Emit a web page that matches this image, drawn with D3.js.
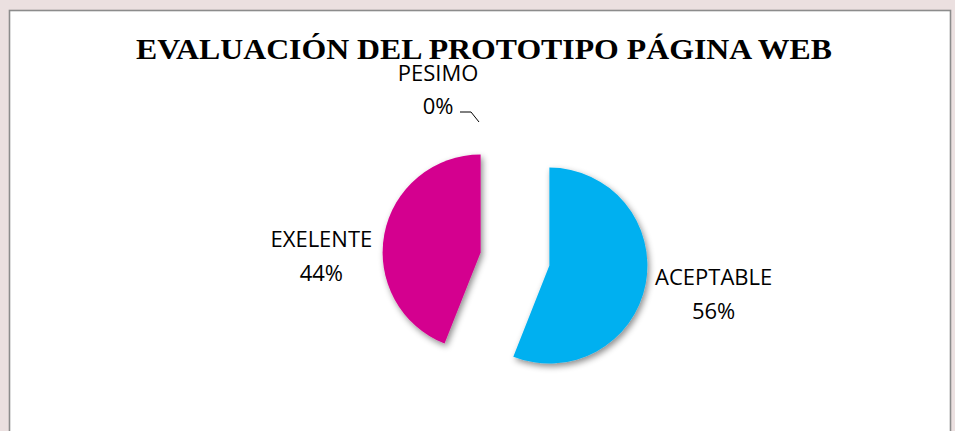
<!DOCTYPE html>
<html>
<head>
<meta charset="utf-8">
<script src="https://cdn.jsdelivr.net/npm/d3@7"></script>
<style>
  html, body { margin: 0; padding: 0; background: #ebe0e0; }
  svg { display: block; }
</style>
</head>
<body>
<svg id="chart"></svg>
<script>
// datos del grafico
var categories = ["ACEPTABLE", "EXELENTE", "PESIMO"];
var values = [56, 44, 0];
var colors = ["#00b0f0", "#d4008f", "#7f7f7f"];
var title = "EVALUACIÓN DEL PROTOTIPO PÁGINA WEB";

var width = 955, height = 431;
var cx = 515, cy = 259, radius = 98, explode = 35;

var svg = d3.select("#chart").attr("width", width).attr("height", height);

// sombra de las porciones
var defs = svg.append("defs");
var f = defs.append("filter").attr("id", "shadow")
  .attr("x", "-20%").attr("y", "-20%").attr("width", "150%").attr("height", "150%");
f.append("feDropShadow").attr("dx", 2).attr("dy", 3).attr("stdDeviation", 3)
  .attr("flood-color", "#000").attr("flood-opacity", 0.45);

// area del grafico
svg.append("rect")
  .attr("x", 9.5).attr("y", 10.5)
  .attr("width", 941).attr("height", 440)
  .attr("fill", "#fff")
  .attr("stroke", "#8c8c8c").attr("stroke-width", 1.6);

svg.append("text")
  .attr("x", 136).attr("y", 59)
  .attr("textLength", 696).attr("lengthAdjust", "spacingAndGlyphs")
  .style("font-family", "'Liberation Serif', 'Times New Roman', serif")
  .style("font-weight", "bold").style("font-size", "30px")
  .attr("fill", "#000")
  .text(title);

var total = d3.sum(values);
var seedData = categories.map(function(c, i) {
  return { label: c, value: values[i], pct: Math.round(values[i] / total * 100) + "%", color: colors[i] };
});

var pie = d3.pie().value(function(d) { return d.value; }).sort(null);
var arc = d3.arc().innerRadius(0).outerRadius(radius);

var arcs = pie(seedData);

function mid(d) { return (d.startAngle + d.endAngle) / 2; }
function offset(d, r) {
  var a = mid(d);
  return [Math.sin(a) * r, -Math.cos(a) * r];
}

var g = svg.append("g").attr("transform", "translate(" + cx + "," + cy + ")");

g.selectAll("path")
  .data(arcs.filter(function(d) { return d.value > 0; }))
  .enter().append("path")
  .attr("transform", function(d) { return "translate(" + offset(d, explode) + ")"; })
  .attr("d", arc)
  .attr("fill", function(d) { return d.data.color; })
  .attr("filter", "url(#shadow)");

// etiquetas
var labelFont = "'Open Sans', 'DejaVu Sans', sans-serif";
arcs.forEach(function(d) {
  var lbl = g.append("text")
    .style("font-family", labelFont).style("font-size", "22px")
    .attr("fill", "#000").attr("text-anchor", "middle");
  var x, y;
  if (d.value > 0) {
    var p = offset(d, explode + radius);
    var right = Math.sin(mid(d)) > 0;
    x = p[0] + (right ? 68 : -63);
    y = p[1] + (right ? 9 : 21);
    lbl.append("tspan").attr("x", x).attr("y", y - 8).text(d.data.label);
    lbl.append("tspan").attr("x", x).attr("y", y + 26).text(d.data.pct);
  } else {
    // porcion de 0%: linea guia hacia arriba a la izquierda
    var p0 = offset(d, explode + radius);
    var ex = p0[0] - 36, ey = p0[1] - 4;
    g.append("path")
      .attr("d", d3.line()([[ex, ey], [ex - 8, ey - 10], [ex - 19, ey - 10]]))
      .attr("fill", "none").attr("stroke", "#000").attr("stroke-width", 1);
    x = ex - 41; y = ey - 10;
    lbl.append("tspan").attr("x", x).attr("y", y - 31).text(d.data.label);
    lbl.append("tspan").attr("x", x).attr("y", y + 2).text(d.data.pct);
  }
});
</script>
</body>
</html>
